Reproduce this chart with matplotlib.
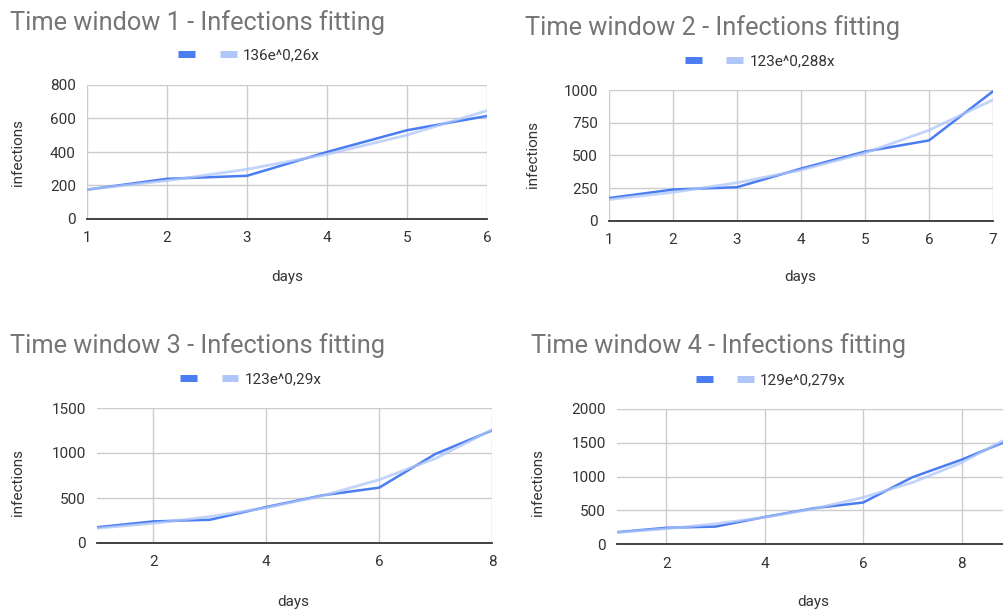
import matplotlib
matplotlib.use("Agg")
import matplotlib.pyplot as plt

plt.rcParams['font.family'] = ['Roboto', 'DejaVu Sans']

days = [1, 2, 3, 4, 5, 6, 7, 8, 9]
infections = [175, 240, 258, 400, 530, 615, 990, 1250, 1550]

titles = ["Time window 1 - Infections fitting", "Time window 2 - Infections fitting",
          "Time window 3 - Infections fitting", "Time window 4 - Infections fitting"]
trend_labels = ["136e^0,26x", "123e^0,288x", "123e^0,29x", "129e^0,279x"]
window_len = [6, 7, 8, 9]
trend1 = [176, 229, 297, 386, 501, 647]
trend2 = [164, 219, 292, 389, 519, 693, 925]
trend3 = [164, 219, 293, 392, 525, 703, 940, 1258]
trend4 = [171, 226, 299, 395, 522, 690, 912, 1206, 1594]
trends = [trend1, trend2, trend3, trend4]
yticks = [[0, 200, 400, 600, 800], [0, 250, 500, 750, 1000],
          [0, 500, 1000, 1500], [0, 500, 1000, 1500, 2000]]
xticks = [[1, 2, 3, 4, 5, 6], [1, 2, 3, 4, 5, 6, 7], [2, 4, 6, 8], [2, 4, 6, 8]]

W, H = 1004, 614
fig = plt.figure(figsize=(W / 100, H / 100), dpi=100)

# layout in pixels: (left, top, right, bottom)
boxes = [(87, 85, 487, 219), (609, 90, 993, 221), (97, 408, 492, 543), (617, 409, 1011, 544)]
title_pos = [(10, 30), (525, 35), (10, 353), (531, 353)]
legend_pos = [(249, 55), (760, 61), (251, 379), (771, 380)]
ylabel_pos = [(18, 152), (533, 155), (18, 483), (538, 483)]
xlabel_pos = [(287, 277), (800, 277), (293, 602), (813, 602)]

dark = '#4a7cf2'
light = '#aec6f8'

def fx(px):
    return px / W

def fy(py):
    return 1 - py / H

for i in range(4):
    l, t, r, b = boxes[i]
    ax = fig.add_axes([fx(l), fy(b), (r - l) / W, (b - t) / H])
    n = window_len[i]
    ax.plot(days[:n], infections[:n], color=dark, lw=1.8, zorder=3)
    ax.plot(days[:n], trends[i], color=light, lw=2.0, alpha=0.75, zorder=4)
    ax.set_xlim(1, n)
    ax.set_ylim(yticks[i][0], yticks[i][-1])
    ax.set_yticks(yticks[i])
    ax.set_xticks(xticks[i])
    ax.grid(True, color='#cccccc', lw=1)
    ax.set_axisbelow(True)
    for s in ['top', 'right', 'left']:
        ax.spines[s].set_visible(False)
    ax.spines['bottom'].set_color('#333333')
    ax.spines['bottom'].set_linewidth(1.3)
    ax.spines['bottom'].set_zorder(5)
    ax.tick_params(length=0, labelsize=11, labelcolor='#333333')
    ax.tick_params(axis='y', pad=8)
    ax.tick_params(axis='x', pad=9)

    h_dark, = ax.plot([], [], color=dark, lw=5, solid_capstyle='butt')
    h_light, = ax.plot([], [], color=light, lw=5, solid_capstyle='butt')
    lx, ly = legend_pos[i]
    fig.legend([h_dark, h_light], ['', trend_labels[i]], loc='center',
               bbox_to_anchor=(fx(lx), fy(ly)), ncol=2, frameon=False,
               fontsize=11, handlelength=1.1, handletextpad=0.4, columnspacing=1.2,
               labelcolor='#333333')

    tx, ty = title_pos[i]
    fig.text(fx(tx), fy(ty), titles[i], fontsize=18.3, color='#757575', ha='left', va='baseline')
    yx, yy = ylabel_pos[i]
    fig.text(fx(yx), fy(yy), 'infections', rotation=90, fontsize=11, color='#333333',
             ha='center', va='center')
    xx, xy = xlabel_pos[i]
    fig.text(fx(xx), fy(xy), 'days', fontsize=11, color='#333333', ha='center', va='center')

fig.savefig('out.png', dpi=100)
